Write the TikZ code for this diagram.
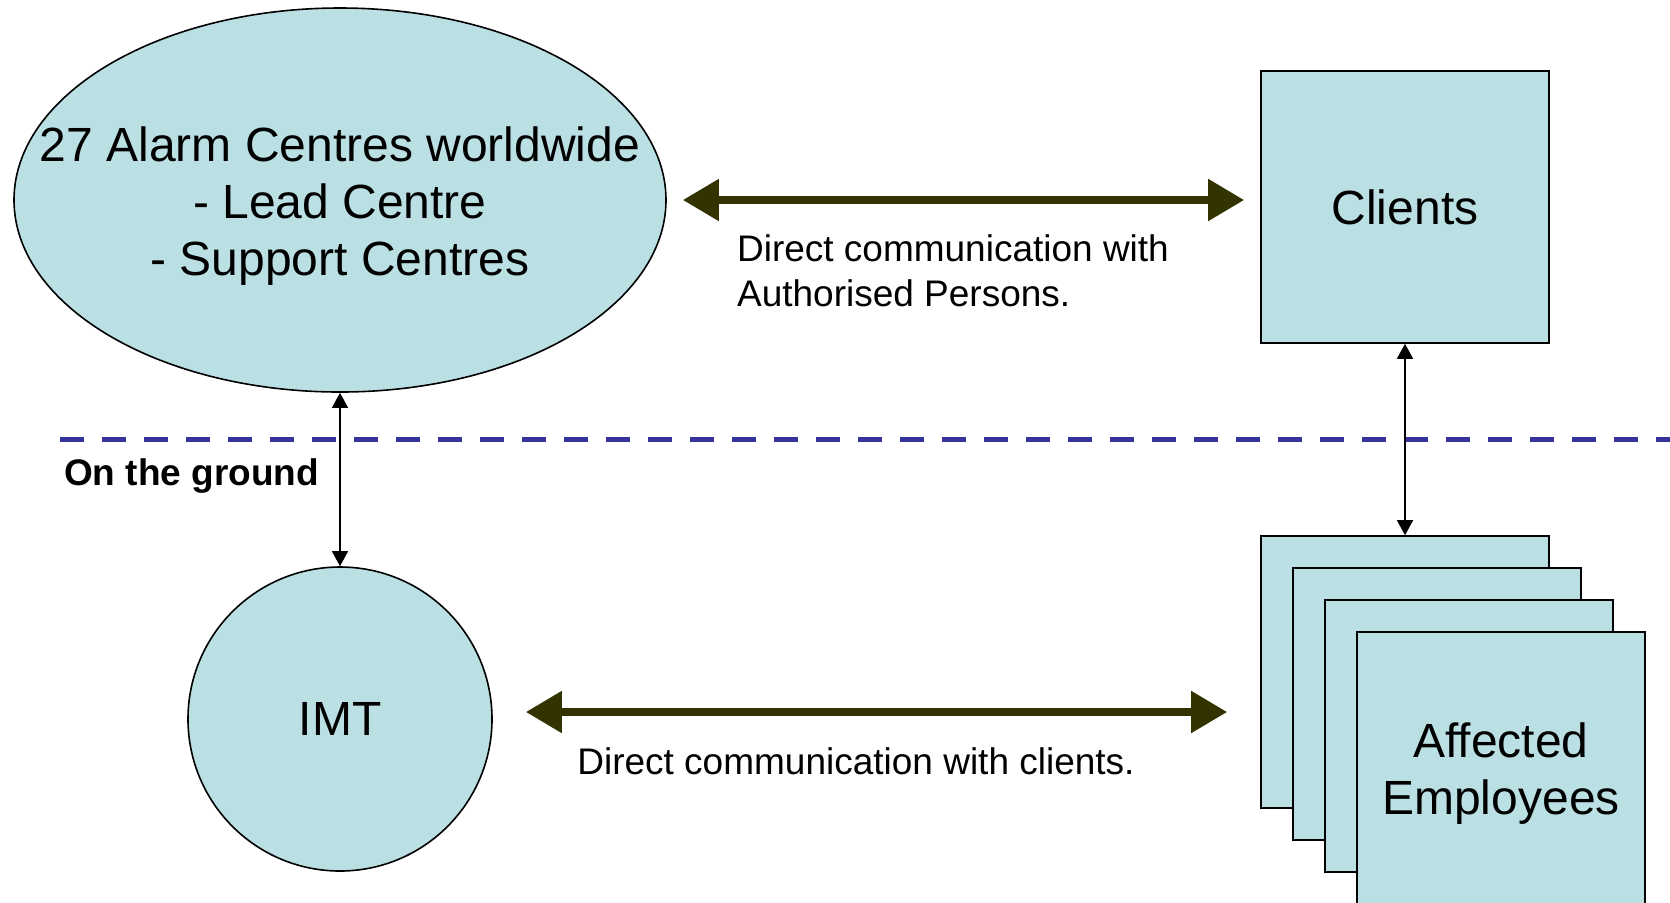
\documentclass[tikz,border=0pt]{standalone}
\usepackage{fontspec}
\setmainfont{Liberation Sans}
\usetikzlibrary{positioning,shapes.geometric,arrows.meta}
\definecolor{pale}{RGB}{187,224,227}
\definecolor{darkolive}{RGB}{51,51,0}
\definecolor{groundline}{RGB}{51,51,153}
\tikzstyle{hub}=[draw, ellipse, fill=pale, line width=0.8pt, minimum width=326pt, minimum height=192pt, inner sep=0pt]
\tikzstyle{party}=[draw, rectangle, fill=pale, line width=0.8pt, minimum width=144pt, minimum height=136pt, inner sep=0pt]
\tikzstyle{team}=[draw, circle, fill=pale, line width=0.8pt, minimum size=152pt, inner sep=0pt]
\tikzstyle{talk}=[{Triangle[length=18pt,width=20pt]}-{Triangle[length=18pt,width=20pt]}, darkolive, line width=4pt, shorten <=8pt, shorten >=8pt]
\tikzstyle{link}=[{Triangle[length=7.5pt,width=8pt]}-{Triangle[length=7.5pt,width=8pt]}, black, line width=0.75pt]
\tikzstyle{boundary}=[groundline, line width=2.5pt, dash pattern=on 12pt off 9pt]
\newcommand{\bigtext}{\fontsize{24}{28.5}\selectfont}
\newcommand{\smalltext}{\fontsize{18.5}{22.5}\selectfont}
\newcommand{\drawstack}{
  \node[party] (emp1) at (1405, 672) {};
  \node[party] (emp2) at (1437, 704) {};
  \node[party] (emp3) at (1469, 736) {};
  \node[party] (emp4) at (1501, 768) {};
  \node[align=center, font=\bigtext] (emptext) at (1501, 774) {Affected\\Employees};
}

\begin{document}
\begin{tikzpicture}[x=0.5pt, y=-0.5pt]
    \useasboundingbox (0, 0) rectangle (1670, 902);
    \node[hub] (centres) at (340, 200) {};
    \node[align=center, font=\bigtext] (centrestext) at (340, 206) {27 Alarm Centres worldwide\\- Lead Centre\\- Support Centres};
    \node[party, font=\bigtext] (clients) at (1405, 207) {Clients};
    \node[team, font=\bigtext] (imt) at (340, 719) {IMT};
    \drawstack{}
    \coordinate (groundL) at (60, 439);
    \coordinate (groundR) at (1670, 439);
    \draw[boundary] (groundL) -- (groundR);
    \node[anchor=base west, font=\smalltext\bfseries] (ground) at (57, 485) {On the ground};
    \draw[talk] (centres.east) -- (centres.east -| clients.west);
    \node[anchor=west, align=left, font=\smalltext] (authlabel) at (730, 271) {Direct communication with\\Authorised Persons.};
    \draw[talk, shorten <=16.5pt, shorten >=16.5pt] ([yshift=3.5pt]imt.east) -- ([yshift=3.5pt]imt.east -| emp1.west);
    \node[font=\smalltext] (clientlabel) at (856, 761) {Direct communication with clients.};
    \draw[link] (centres.south) -- (imt.north);
    \draw[link] (clients.south) -- (emp1.north);
  \end{tikzpicture}
\end{document}
